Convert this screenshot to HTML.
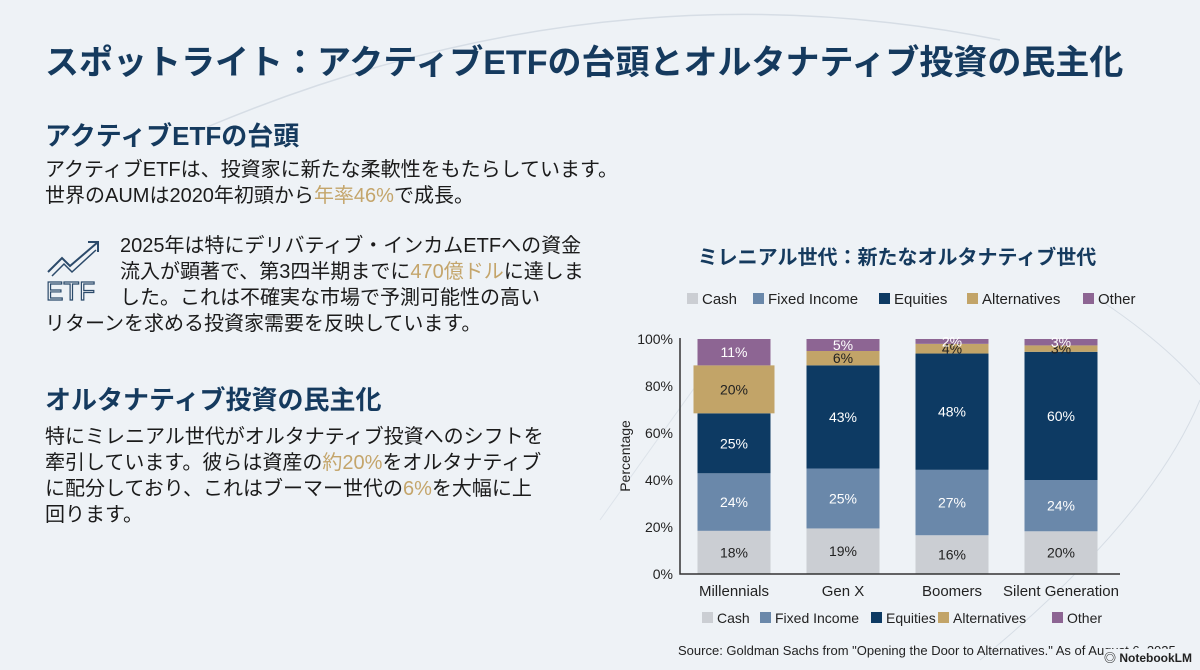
<!DOCTYPE html>
<html><head><meta charset="utf-8">
<style>
body{margin:0;width:1200px;height:670px;overflow:hidden;background:#eef2f6;font-family:"Liberation Sans","Noto Sans CJK JP",sans-serif;position:relative;color:#1b1b1b}
.a{position:absolute;white-space:nowrap}
h1,h2{margin:0;font-weight:700;color:#153a5e}
.t{font-size:20px;line-height:26px}
.g{color:#c4a56b}
</style></head><body>
<svg class="a" style="left:0;top:0" width="1200" height="670">
<path d="M200 130 Q 600 -40 1000 40" stroke="#d6dde5" fill="none" stroke-width="1.5"/>
<path d="M1100 300 Q 1250 400 1250 500" stroke="#d6dde5" fill="none"/>
<path d="M980 660 Q 1150 520 1200 400" stroke="#d6dde5" fill="none"/>
<path d="M700 380 L 600 520" stroke="#dde3ea" fill="none"/>
</svg>
<h1 class="a" style="left:45px;top:35px;font-size:34px">スポットライト：アクティブETFの台頭とオルタナティブ投資の民主化</h1>
<h2 class="a" style="left:45px;top:116px;font-size:26px">アクティブETFの台頭</h2>
<div class="a t" style="left:45px;top:157px">アクティブETFは、投資家に新たな柔軟性をもたらしています。<br>世界のAUMは2020年初頭から<span class="g">年率46%</span>で成長。</div>
<svg class="a" style="left:44px;top:236px" width="64" height="66">
<polyline points="4,36 18,22 26,30 54,6" fill="none" stroke="#2b4a6a" stroke-width="2"/>
<polyline points="44,6 54,6 54,16" fill="none" stroke="#2b4a6a" stroke-width="2"/>
<polyline points="8,40 20,28 28,36 52,14" fill="none" stroke="#2b4a6a" stroke-width="1.5"/>
<text x="2" y="64" font-size="26" font-family="Liberation Sans" fill="none" stroke="#2b4a6a" stroke-width="1.2">ETF</text>
</svg>
<div class="a t" style="left:120px;top:233px">2025年は特にデリバティブ・インカムETFへの資金<br>流入が顕著で、第3四半期までに<span class="g">470億ドル</span>に達しま<br>した。これは不確実な市場で予測可能性の高い</div>
<div class="a t" style="left:45px;top:311px">リターンを求める投資家需要を反映しています。</div>
<h2 class="a" style="left:45px;top:380px;font-size:26px">オルタナティブ投資の民主化</h2>
<div class="a t" style="left:45px;top:424px">特にミレニアル世代がオルタナティブ投資へのシフトを<br>牽引しています。彼らは資産の<span class="g">約20%</span>をオルタナティブ<br>に配分しており、これはブーマー世代の<span class="g">6%</span>を大幅に上<br>回ります。</div>

<svg id="chart" class="a" style="left:0;top:0" width="1200" height="670"></svg>
<div class="a" style="right:8px;bottom:4px;font-size:12px;font-weight:700;color:#222;background:#eef2f6">◎ NotebookLM</div>
<script>
const categories=["Millennials","Gen X","Boomers","Silent Generation"];
const seriesNames=["Cash","Fixed Income","Equities","Alternatives","Other"];
const cash=[18,19,16,20];
const fixedIncome=[24,25,27,24];
const equities=[25,43,48,60];
const alternatives=[20,6,4,3];
const other=[11,5,2,3];
const yTicks=[0,20,40,60,80,100];
const colors=["#cbced3","#6a88aa","#0d3a63","#c2a468","#8d6593"];
const series=[cash,fixedIncome,equities,alternatives,other];
const NS="http://www.w3.org/2000/svg";
const svg=document.getElementById('chart');
const y0=574,y100=339,xAxis=680,x0=734,step=109,bw=73;
const yS=v=>y0-(v/100)*(y0-y100);
const xS=i=>x0+i*step;
function mk(t,a,txt){const e=document.createElementNS(NS,t);for(const k in a)e.setAttribute(k,a[k]);if(txt!=null)e.textContent=txt;svg.appendChild(e);return e;}
let e;
e=mk('text',{x:897,y:264,'font-size':20,'font-weight':700,fill:'#153a5e','text-anchor':'middle','font-family':'Liberation Sans,Noto Sans CJK JP,sans-serif'},'ミレニアル世代：新たなオルタナティブ世代');


function legend(y,xs,fs){seriesNames.forEach((n,i)=>{
 let r=mk('rect',{x:xs[i],y:y-11,width:11,height:11,fill:colors[i]});
 
 
 let t=mk('text',{x:xs[i]+15,y:y,'font-size':fs,fill:'#222'},n);
 
 
});}
legend(304,[687,753,879,967,1083],15);
legend(623,[702,760,871,938,1052],14);
yTicks.forEach(v=>{
 let t=mk('text',{x:673,y:yS(v)+5,'font-size':14,'text-anchor':'end',fill:'#222'},v+'%');
 
 
});
e=mk('text',{x:0,y:0,'font-size':14,fill:'#222','text-anchor':'middle',transform:'translate(630,456) rotate(-90)'},'Percentage');


categories.forEach((c,i)=>{
 const tot=series.reduce((s,a)=>s+a[i],0);
 let acc=0;
 series.forEach((arr,k)=>{
  const v=arr[i]/tot*100;
  const top=yS(acc+v),bot=yS(acc);
  const hl=(i===0&&k===3);
  const w=hl?81:bw;
  let r=mk('rect',{x:xS(i)-w/2,y:top,width:w,height:bot-top,fill:colors[k]});
  
  
  const dark=(k===1||k===2||k===4);
  let t=mk('text',{x:xS(i),y:(top+bot)/2+5,'font-size':14,'text-anchor':'middle',fill:dark?'#fff':'#222'},arr[i]+'%');
  
  
  acc+=v;
 });
 let t=mk('text',{x:xS(i),y:596,'font-size':15,'text-anchor':'middle',fill:'#222'},c);
 
 
});
e=mk('path',{d:`M${xAxis} 338 V${y0} H1120`,stroke:'#333','stroke-width':1.5,fill:'none'});


e=mk('text',{x:678,y:655,'font-size':13,fill:'#222'},'Source: Goldman Sachs from "Opening the Door to Alternatives." As of August 6, 2025');


</script>
</body></html>
